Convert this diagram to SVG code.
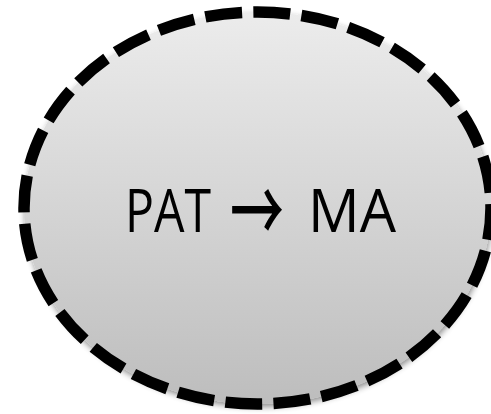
<svg xmlns="http://www.w3.org/2000/svg" width="491" height="414" viewBox="0 0 491 414">
  <defs>
    <linearGradient id="fillGrad" x1="0" y1="0" x2="0" y2="1">
      <stop offset="0" stop-color="#ececec"/>
      <stop offset="1" stop-color="#bdbdbd"/>
    </linearGradient>
    <filter id="shadow" x="-10%" y="-10%" width="120%" height="120%">
      <feGaussianBlur in="SourceAlpha" stdDeviation="3"/>
      <feOffset dx="1" dy="3" result="b"/>
      <feComponentTransfer><feFuncA type="linear" slope="0.45"/></feComponentTransfer>
      <feMerge><feMergeNode/><feMergeNode in="SourceGraphic"/></feMerge>
    </filter>
  </defs>
  <style>
    .node-shape { fill: url(#fillGrad); stroke: none; }
    .node-border { fill: none; stroke: #000000; stroke-width: 11.5; stroke-dasharray: 37 11.3; }
    .label { font-family: "Open Sans", "Noto Sans", "Liberation Sans", sans-serif; font-size: 61px; fill: #000000; }
    .arrow { font-family: "Noto Sans CJK JP", "DejaVu Sans", sans-serif; font-weight: 500; font-size: 88px; fill: #000000; }
  </style>
  <rect width="491" height="414" fill="#ffffff"/>
  <g id="connectors"></g>
  <g id="node-pat-ma">
    <ellipse class="node-shape" cx="257.5" cy="208" rx="233.5" ry="196" filter="url(#shadow)" stroke="#d9d9d9" stroke-width="11.5"/>
    <ellipse class="node-border" cx="257.5" cy="208" rx="233.5" ry="196" stroke-dashoffset="5"/>
    <text class="label" x="125" y="232" textLength="86" lengthAdjust="spacingAndGlyphs">PAT</text>
    <text class="arrow" x="230" y="243" textLength="54" lengthAdjust="spacingAndGlyphs">→</text>
    <text class="label" x="308" y="232" textLength="88" lengthAdjust="spacingAndGlyphs">MA</text>
  </g>
</svg>
